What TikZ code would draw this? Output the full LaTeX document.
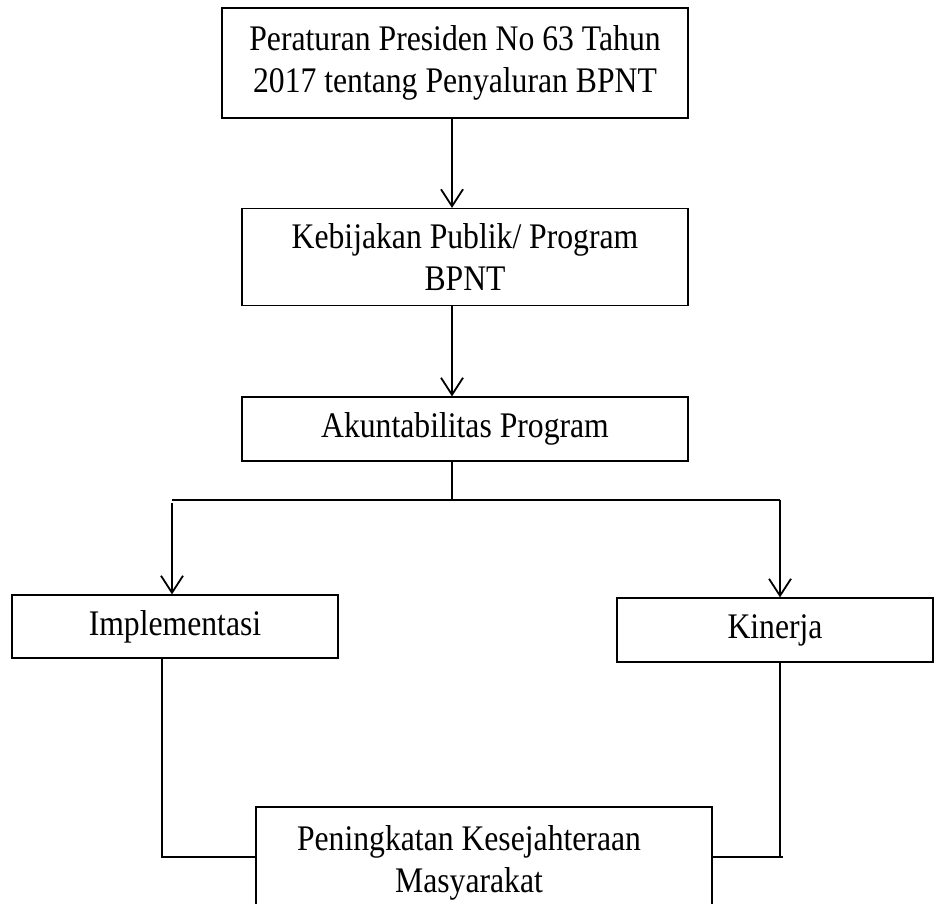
\documentclass[tikz,border=0pt]{standalone}
\usepackage{fontspec}
\setmainfont[FakeStretch=0.88]{Liberation Serif}
\usetikzlibrary{arrows.meta}
\begin{document}
\begin{tikzpicture}[x=1pt,y=-1pt,
  box/.style={draw, line width=1.2pt, rectangle, inner sep=0pt, align=center, font=\fontsize{36}{42}\selectfont},
  lbl/.style={inner sep=0pt, align=center, font=\fontsize{36}{42}\selectfont},
  conn/.style={line width=1.8pt},
  arr/.style={conn, -{Straight Barb[length=17pt,width=22pt,line width=1.8pt]}}]
\useasboundingbox (0,0) rectangle (934,904);
\node[box, minimum width=466pt, minimum height=110pt] (b1) at (455,63) {Peraturan Presiden No 63 Tahun\\2017 tentang Penyaluran BPNT};
\node[box, minimum width=446pt, minimum height=97pt] (b2) at (465,257) {Kebijakan Publik/ Program\\BPNT};
\node[box, minimum width=446pt, minimum height=64pt] (b3) at (465,429) {Akuntabilitas Program};
\node[box, minimum width=326pt, minimum height=63pt] (b4) at (175,626.5) {Implementasi};
\node[box, minimum width=316pt, minimum height=64pt] (b5) at (775,630) {Kinerja};
\node[box, minimum width=456pt, minimum height=113pt] (b6) at (484,863.5) {};
\node[lbl] (t6) at (469,863) {Peningkatan Kesejahteraan\\Masyarakat};
\coordinate (ax) at (452,0);
\coordinate (hl) at (172,500);
\coordinate (hr) at (780,500);
\coordinate (bl) at (162,857);
\coordinate (br) at (780,857);
\coordinate (brend) at (783,857);
\draw[arr] (b1.south -| ax) -- (b2.north -| ax);
\draw[arr] (b2.south -| ax) -- (b3.north -| ax);
\draw[conn] (b3.south -| ax) -- (ax |- hl);
\draw[conn] (hl) -- (hr);
\draw[arr] ([yshift=-3pt]hl) -- (b4.north -| hl);
\draw[arr] (hr) -- (b5.north -| hr);
\draw[conn] (b4.south -| bl) -- (bl) -- (b6.west |- bl);
\draw[conn] (b5.south -| br) -- (br);
\draw[conn] (b6.east |- br) -- (brend);
\end{tikzpicture}
\end{document}
